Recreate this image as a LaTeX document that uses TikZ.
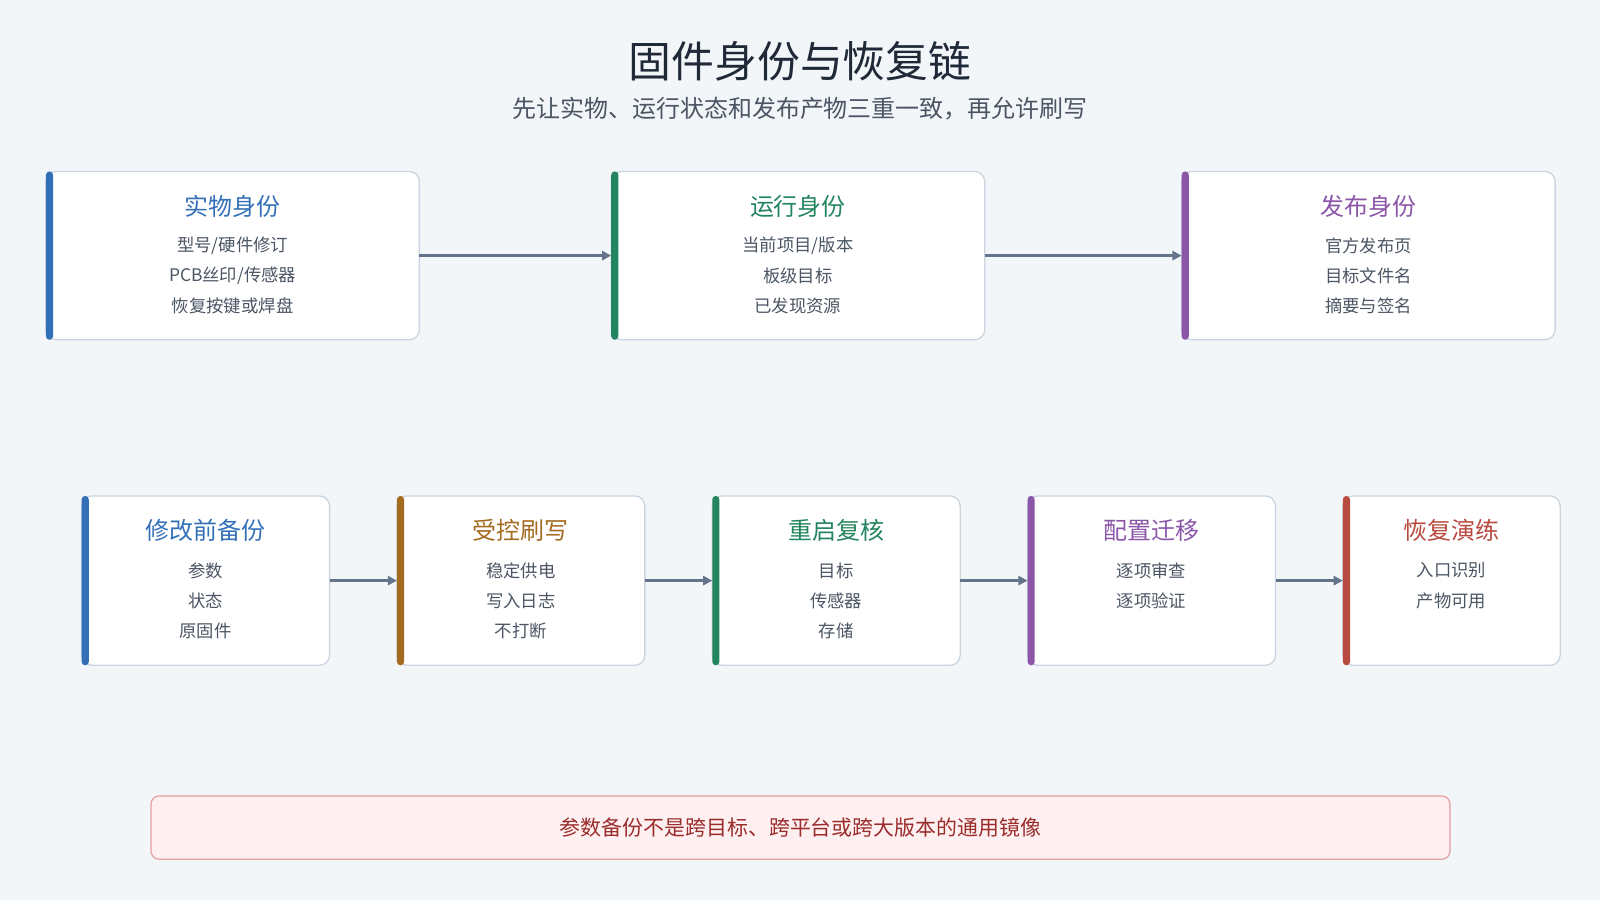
\documentclass[tikz,border=0pt]{standalone}
\usepackage{fontspec}
\setmainfont{Noto Sans CJK SC}
\usetikzlibrary{arrows.meta}
\definecolor{bg}{HTML}{F3F6F9}
\definecolor{bd}{HTML}{CBD5E1}
\definecolor{ttl}{HTML}{1F2937}
\definecolor{sub}{HTML}{4B5563}
\definecolor{txt}{HTML}{4B5563}
\definecolor{arr}{HTML}{64748B}
\definecolor{cblue}{HTML}{3370B8}
\definecolor{cgreen}{HTML}{23855F}
\definecolor{cpurple}{HTML}{8B55A8}
\definecolor{cbrown}{HTML}{A36B1F}
\definecolor{cred}{HTML}{B94A40}
\definecolor{notefill}{HTML}{FEF0F0}
\definecolor{noteline}{HTML}{E3A0A0}
\definecolor{notetext}{HTML}{9B2C2C}
\tikzset{
  box/.style={draw=bd,line width=1.3pt,fill=white,rounded corners=10pt},
  bar/.style={fill=#1,rounded corners=3.5pt},
  head/.style={text=#1,font=\fontsize{23.5}{28}\selectfont,anchor=center},
  item/.style={text=txt,font=\fontsize{17}{20}\selectfont,anchor=center},
  flow/.style={draw=arr,line width=3pt,-{Triangle[length=9pt,width=9pt]}},
}
\newcommand{\card}[8]{%
  \draw[box] (#2,#3) rectangle (#4,#5);
  \fill[bar=#6] (#2,#3) rectangle ++(7,#5-#3);
  \coordinate (#1w) at (#2,{(#3+#5)/2});
  \coordinate (#1e) at (#4,{(#3+#5)/2});
  \node[head=#6] (#1t) at ({(#2+#4)/2},#3+34) {#7};
  \foreach \s [count=\i] in {#8} {
    \node[item] at ({(#2+#4)/2},{#3+73+(\i-1)*29.5}) {\s};
  }
}
\begin{document}
\begin{tikzpicture}[x=1pt,y=-1pt]
\useasboundingbox (0,0) rectangle (1568,882);
\fill[bg] (0,0) rectangle (1568,882);
\node[text=ttl,font=\fontsize{42}{48}\selectfont] (title) at (784,60) {固件身份与恢复链};
\node[text=sub,font=\fontsize{23.5}{28}\selectfont] (subtitle) at (784,106) {先让实物、运行状态和发布产物三重一致，再允许刷写};
\card{a}{45}{168}{411}{333}{cblue}{实物身份}{型号/硬件修订,PCB丝印/传感器,恢复按键或焊盘}
\card{b}{599}{168}{965}{333}{cgreen}{运行身份}{当前项目/版本,板级目标,已发现资源}
\card{c}{1158}{168}{1524}{333}{cpurple}{发布身份}{官方发布页,目标文件名,摘要与签名}
\card{d}{80}{486}{323}{652}{cblue}{修改前备份}{参数,状态,原固件}
\card{e}{389}{486}{632}{652}{cbrown}{受控刷写}{稳定供电,写入日志,不打断}
\card{f}{698}{486}{941}{652}{cgreen}{重启复核}{目标,传感器,存储}
\card{g}{1007}{486}{1250}{652}{cpurple}{配置迁移}{逐项审查,逐项验证}
\card{h}{1316}{486}{1529}{652}{cred}{恢复演练}{入口识别,产物可用}
\draw[flow] (ae) -- (bw);
\draw[flow] (be) -- (cw);
\draw[flow] (de) -- (ew);
\draw[flow] (ee) -- (fw);
\draw[flow] (fe) -- (gw);
\draw[flow] (ge) -- (hw);
\draw[draw=noteline,fill=notefill,line width=1.2pt,rounded corners=8pt] (148,780) rectangle (1421,842);
\node[text=notetext,font=\fontsize{20.5}{24}\selectfont] (note) at (784.5,811) {参数备份不是跨目标、跨平台或跨大版本的通用镜像};
\end{tikzpicture}
\end{document}
